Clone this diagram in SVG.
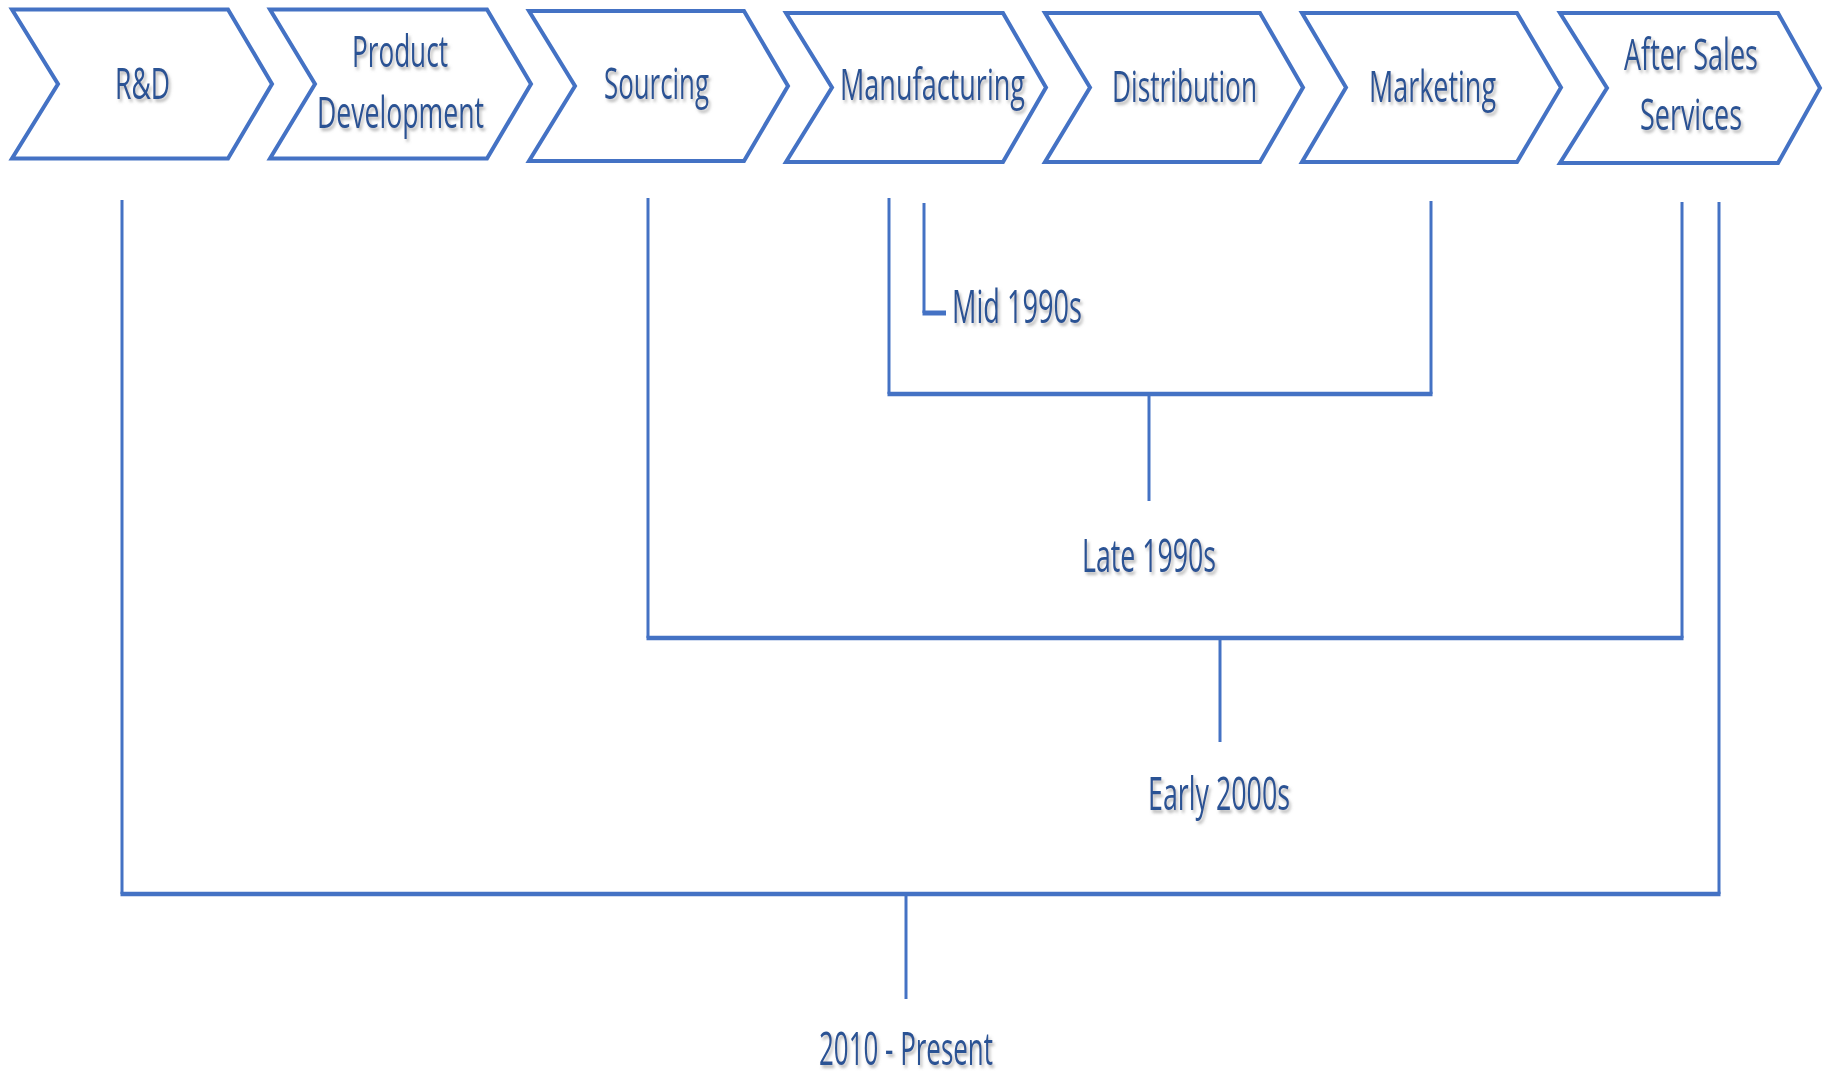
<svg xmlns="http://www.w3.org/2000/svg" width="1826" height="1072" viewBox="0 0 1826 1072">
  <defs>
    <filter id="softShadow" x="-10%" y="-30%" width="130%" height="170%">
      <feDropShadow dx="2" dy="3" stdDeviation="1.6" flood-color="#7f7f7f" flood-opacity="0.55"/>
    </filter>
  </defs>
  <style>
    .chev { fill: #ffffff; stroke: #4472C4; stroke-width: 4; stroke-linejoin: miter; }
    .lbl { font-family: "Open Sans", "Liberation Sans", sans-serif; font-size: 44px; fill: #2C5294; filter: url(#softShadow); }
    .era { font-family: "Open Sans", "Liberation Sans", sans-serif; font-size: 45px; fill: #2C5294; filter: url(#softShadow); }
    .v { stroke: #4472C4; stroke-width: 3; fill: none; }
    .h { stroke: #4472C4; stroke-width: 4.5; fill: none; }
  </style>
  <rect width="1826" height="1072" fill="#ffffff"/>

  <!-- value chain stages -->
  <g id="stage-rd">
    <polygon class="chev" points="12,9.5 228,9.5 272,84 228,158.5 12,158.5 58,84"/>
    <text class="lbl" x="115" y="99" textLength="55" lengthAdjust="spacingAndGlyphs">R&amp;D</text>
  </g>
  <g id="stage-product-development">
    <polygon class="chev" points="270,9.5 487,9.5 531,84 487,158.5 270,158.5 315,84"/>
    <text class="lbl" x="352" y="67" textLength="96" lengthAdjust="spacingAndGlyphs">Product</text>
    <text class="lbl" x="317" y="128" textLength="167" lengthAdjust="spacingAndGlyphs">Development</text>
  </g>
  <g id="stage-sourcing">
    <polygon class="chev" points="529,11 744,11 788,86 744,161 529,161 575,86"/>
    <text class="lbl" x="604" y="99" textLength="105" lengthAdjust="spacingAndGlyphs">Sourcing</text>
  </g>
  <g id="stage-manufacturing">
    <polygon class="chev" points="786,13 1003,13 1046,87.5 1003,162 786,162 832,87.5"/>
    <text class="lbl" x="840" y="100" textLength="185" lengthAdjust="spacingAndGlyphs">Manufacturing</text>
  </g>
  <g id="stage-distribution">
    <polygon class="chev" points="1045,13 1260,13 1303,87.5 1260,162 1045,162 1090,87.5"/>
    <text class="lbl" x="1112" y="102" textLength="145" lengthAdjust="spacingAndGlyphs">Distribution</text>
  </g>
  <g id="stage-marketing">
    <polygon class="chev" points="1302,13 1517,13 1561,87.5 1517,162 1302,162 1346,87.5"/>
    <text class="lbl" x="1369" y="102" textLength="127" lengthAdjust="spacingAndGlyphs">Marketing</text>
  </g>
  <g id="stage-after-sales">
    <polygon class="chev" points="1560,13 1778,13 1820,88 1778,163 1560,163 1607,88"/>
    <text class="lbl" x="1624" y="70" textLength="134" lengthAdjust="spacingAndGlyphs">After Sales</text>
    <text class="lbl" x="1640" y="130" textLength="102" lengthAdjust="spacingAndGlyphs">Services</text>
  </g>

  <!-- brackets grouping stages by period -->
  <g id="connectors">
    <!-- mid 1990s: manufacturing only -->
    <path class="v" d="M924,203 V313"/>
    <path d="M922.5,313 H946" stroke="#4472C4" stroke-width="5" fill="none"/>
    <!-- late 1990s: manufacturing to marketing -->
    <path class="v" d="M889,198 V394"/>
    <path class="v" d="M1431,201 V394"/>
    <path class="h" d="M887.5,394 H1432.5"/>
    <path class="v" d="M1149,394 V501"/>
    <!-- early 2000s: sourcing to after sales -->
    <path class="v" d="M648,198 V638"/>
    <path class="v" d="M1682,202 V638"/>
    <path class="h" d="M646.5,638 H1683.5"/>
    <path class="v" d="M1220,638 V742"/>
    <!-- 2010 to present: whole chain -->
    <path class="v" d="M122,200 V894"/>
    <path class="v" d="M1719,202 V894"/>
    <path class="h" d="M120.5,894 H1720.5"/>
    <path class="v" d="M906,894 V999"/>
  </g>

  <!-- period labels -->
  <g id="period-mid-1990s">
    <text class="era" x="952" y="323" textLength="130" lengthAdjust="spacingAndGlyphs">Mid 1990s</text>
  </g>
  <g id="period-late-1990s">
    <text class="era" x="1082" y="572" textLength="134" lengthAdjust="spacingAndGlyphs">Late 1990s</text>
  </g>
  <g id="period-early-2000s">
    <text class="era" x="1148" y="810" textLength="142" lengthAdjust="spacingAndGlyphs">Early 2000s</text>
  </g>
  <g id="period-2010-present">
    <text class="era" x="819" y="1065" textLength="174" lengthAdjust="spacingAndGlyphs" style="font-size:46px">2010 - Present</text>
  </g>
</svg>
